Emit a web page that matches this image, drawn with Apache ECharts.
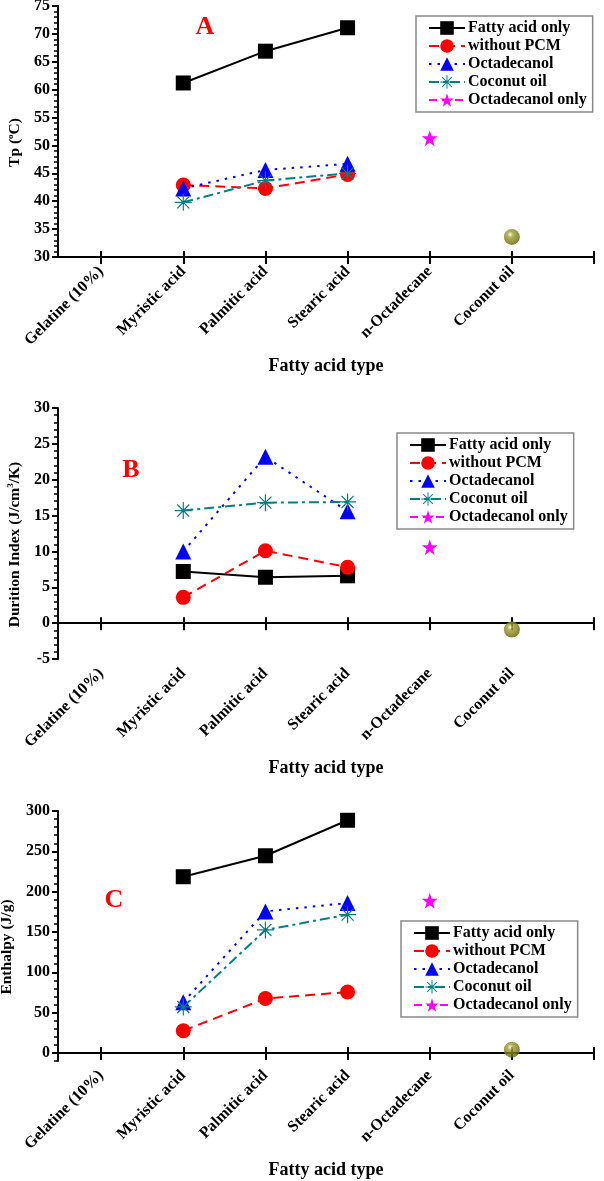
<!DOCTYPE html>
<html>
<head>
<meta charset="utf-8">
<title>Fatty acid type</title>
<script src="https://cdn.jsdelivr.net/npm/echarts@6/dist/echarts.min.js"></script>
<style>
  html, body { margin: 0; padding: 0; background: #fff; }
  #main { width: 604px; height: 1181px; }
</style>
</head>
<body>
<div id="main"></div>
<script>
// categories on the x axis (positions 1..6)
const categories = ['Gelatine (10%)', 'Myristic acid', 'Palmitic acid', 'Stearic acid', 'n-Octadecane', 'Coconut oil'];
const acids = ['Myristic acid', 'Palmitic acid', 'Stearic acid'];

// A: Tp (oC)
const tpFatty = [61.2, 66.9, 71.1];
const tpNoPcm = [42.9, 42.3, 44.8];
const tpOctadecanol = [42.3, 45.6, 46.7];
const tpCoconut = [39.8, 43.7, 45.0];
const tpOctOnly = [51.3];
const tpCoconutNeat = [33.6];
const tpTicks = [30, 35, 40, 45, 50, 55, 60, 65, 70, 75];

// B: Durition Index (J/cm3/K)
const diFatty = [7.2, 6.4, 6.6];
const diNoPcm = [3.6, 10.1, 7.8];
const diOctadecanol = [10.0, 23.2, 15.6];
const diCoconut = [15.7, 16.8, 16.9];
const diOctOnly = [10.6];
const diCoconutNeat = [-0.9];
const diTicks = [-5, 0, 5, 10, 15, 20, 25, 30];

// C: Enthalpy (J/g)
const enFatty = [218.5, 244.5, 288.5];
const enNoPcm = [27.5, 67.5, 75.5];
const enOctadecanol = [63, 175.5, 186];
const enCoconut = [57, 152.5, 171.5];
const enOctOnly = [188.8];
const enCoconutNeat = [4.1];
const enTicks = [0, 50, 100, 150, 200, 250, 300];

const legendNames = ['Fatty acid only', 'without PCM', 'Octadecanol', 'Coconut oil', 'Octadecanol only'];

const FONT = '"Liberation Serif", "Times New Roman", serif';
const STAR = 'path://M10 0 L12.25 6.91 L19.51 6.91 L13.63 11.18 L15.88 18.09 L10 13.82 L4.12 18.09 L6.37 11.18 L0.49 6.91 L7.75 6.91 Z';
const ASTER = 'path://M0 9.3 L20 9.3 L20 10.7 L0 10.7 Z M9.3 0 L10.7 0 L10.7 20 L9.3 20 Z ' +
  'M3.43 2.43 L17.57 16.57 L16.57 17.57 L2.43 3.43 Z M17.57 3.43 L3.43 17.57 L2.43 16.57 L16.57 2.43 Z';

function pts(names, values) {
  return names.map((n, i) => [categories.indexOf(n) + 1, values[i]]);
}

const panels = [
  { top: 6, height: 251, min: 30, max: 75, ticks: tpTicks, minorStep: 1, nameGap: 33,
    name: '{t|Tp (}{s|o}{t|C)}', letter: 'A', letterPos: [205, 27],
    legend: { left: 416, top: 16 },
    data: [tpFatty, tpNoPcm, tpOctadecanol, tpCoconut, tpOctOnly, tpCoconutNeat] },
  { top: 408, height: 251, min: -5, max: 30, ticks: diTicks, minorStep: 1, nameGap: 33,
    name: '{t|Durition Index (J/cm}{s|3}{t|/K)}', letter: 'B', letterPos: [131, 470],
    legend: { left: 397, top: 433 },
    data: [diFatty, diNoPcm, diOctadecanol, diCoconut, diOctOnly, diCoconutNeat] },
  { top: 811, height: 250, min: -10, max: 300, ticks: enTicks, minorStep: 10, nameGap: 40,
    name: '{t|Enthalpy (J/g)}', letter: 'C', letterPos: [114, 900],
    legend: { left: 401, top: 921 },
    data: [enFatty, enNoPcm, enOctadecanol, enCoconut, enOctOnly, enCoconutNeat] }
];

const grid = [], xAxis = [], yAxis = [], series = [], legend = [], graphic = [];

panels.forEach((p, k) => {
  grid.push({ left: 58, right: 10, top: p.top, height: p.height, containLabel: false, outerBoundsMode: 'none' });

  const minor = [];
  for (let v = p.min; v <= p.max + 1e-9; v += p.minorStep) minor.push(+v.toFixed(3));

  xAxis.push({
    gridIndex: k, type: 'value', min: 0.475, max: 7,
    name: 'Fatty acid type', nameLocation: 'middle', nameGap: 100,
    nameTextStyle: { fontFamily: FONT, fontWeight: 'bold', fontSize: 18, color: '#000' },
    axisLine: { lineStyle: { color: '#000', width: 2 } },
    axisTick: { customValues: [1, 2, 3, 4, 5, 6, 7], length: 7, lineStyle: { color: '#000', width: 2 } },
    axisLabel: { customValues: [1, 2, 3, 4, 5, 6], rotate: 45, margin: 12,
      formatter: v => categories[v - 1], fontFamily: FONT, fontWeight: 'bold', fontSize: 16, color: '#000' },
    splitLine: { show: false }
  });
  // ticks crossing the axis upward
  xAxis.push({
    gridIndex: k, type: 'value', min: 0.475, max: 7, position: 'bottom',
    axisLine: { show: false },
    axisTick: { customValues: [1, 2, 3, 4, 5, 6, 7], inside: true, length: 6, lineStyle: { color: '#000', width: 2 } },
    axisLabel: { show: false }, splitLine: { show: false }
  });

  yAxis.push({
    gridIndex: k, type: 'value', min: p.min, max: p.max,
    name: p.name, nameLocation: 'middle', nameRotate: 90, nameGap: p.nameGap,
    nameTextStyle: { padding: [0, 22, 0, 0],
      rich: {
        t: { fontFamily: FONT, fontWeight: 'bold', fontSize: 15.5, color: '#000', lineHeight: 18 },
        s: { fontFamily: FONT, fontWeight: 'bold', fontSize: 9, color: '#000', lineHeight: 18, verticalAlign: 'top' }
      } },
    axisLine: { lineStyle: { color: '#000', width: 2 } },
    axisTick: { customValues: p.ticks, length: 6, lineStyle: { color: '#000', width: 2 } },
    axisLabel: { customValues: p.ticks, margin: 8, fontFamily: FONT, fontWeight: 'bold', fontSize: 16, color: '#000' },
    splitLine: { show: false }
  });
  yAxis.push({
    gridIndex: k, type: 'value', min: p.min, max: p.max, position: 'left',
    axisLine: { show: false },
    axisTick: { customValues: minor, length: 4, lineStyle: { color: '#000', width: 1.5 } },
    axisLabel: { show: false }, splitLine: { show: false }
  });

  const xi = 2 * k, yi = 2 * k;
  const d = p.data;
  series.push(
    { name: 'Fatty acid only', type: 'line', xAxisIndex: xi, yAxisIndex: yi, data: pts(acids, d[0]),
      symbol: 'rect', symbolSize: 15, color: '#000', lineStyle: { color: '#000', width: 2 } },
    { name: 'without PCM', type: 'line', xAxisIndex: xi, yAxisIndex: yi, data: pts(acids, d[1]),
      symbol: 'circle', symbolSize: 15, color: '#ff0000', lineStyle: { color: '#ff0000', width: 2, type: [10, 6] } },
    { name: 'Octadecanol', type: 'line', xAxisIndex: xi, yAxisIndex: yi, data: pts(acids, d[2]),
      symbol: 'triangle', symbolSize: 16, color: '#0000ff', lineStyle: { color: '#0000ff', width: 2, type: [2.5, 6] } },
    { name: 'Coconut oil', type: 'line', xAxisIndex: xi, yAxisIndex: yi, data: pts(acids, d[3]),
      symbol: ASTER, symbolSize: 17, color: '#008080', lineStyle: { color: '#008080', width: 2, type: [10, 4, 3, 4] } },
    { name: 'Octadecanol only', type: 'line', xAxisIndex: xi, yAxisIndex: yi, data: pts(['n-Octadecane'], d[4]),
      symbol: STAR, symbolSize: 16, color: '#ff00ff', lineStyle: { color: '#ff00ff', width: 2, type: [8, 5] } },
    { name: 'Coconut oil (neat)', type: 'scatter', xAxisIndex: xi, yAxisIndex: yi, data: pts(['Coconut oil'], d[5]),
      symbol: 'circle', symbolSize: 16,
      itemStyle: { color: { type: 'radial', x: 0.4, y: 0.35, r: 0.7,
        colorStops: [{ offset: 0, color: '#ffffff' }, { offset: 0.25, color: '#a0a030' }, { offset: 1, color: '#5c5c00' }] } } }
  );

  legend.push({
    data: legendNames, orient: 'vertical', left: p.legend.left, top: p.legend.top,
    itemWidth: 36, itemHeight: 17, itemGap: 2,
    padding: [4, 6, 4, 12], borderColor: '#888', borderWidth: 1.5,
    textStyle: { fontFamily: FONT, fontWeight: 'bold', fontSize: 16, color: '#000', padding: [0, 0, 0, -2] }
  });

  graphic.push({
    type: 'text', x: p.letterPos[0], y: p.letterPos[1],
    style: { text: p.letter, fill: '#ff0000', font: 'bold 26px ' + FONT, align: 'center', verticalAlign: 'middle' }
  });
});

const chart = echarts.init(document.getElementById('main'));
chart.setOption({
  backgroundColor: '#fff',
  animation: false,
  grid, xAxis, yAxis, series, legend, graphic
});
window.addEventListener('resize', () => chart.resize());
</script>
</body>
</html>
